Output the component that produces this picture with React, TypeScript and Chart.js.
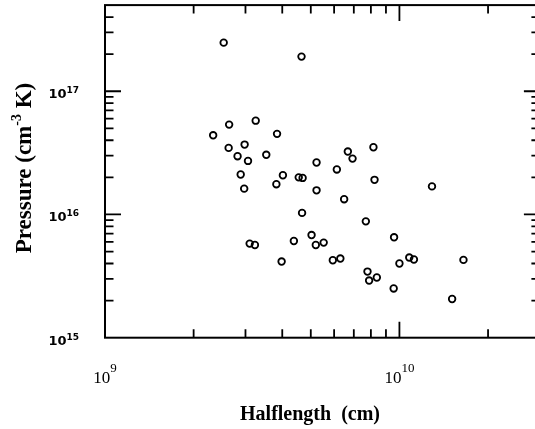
import React, { useEffect, useRef } from 'react';
import { Chart, registerables } from 'chart.js';

Chart.register(...registerables);

// Halflength (cm) for each source
const halflength: number[] = [
  2.53e9, 4.65e9, 3.25e9, 2.64e9, 2.33e9, 3.84e9, 2.98e9, 2.63e9, 6.68e9, 8.16e9,
  3.53e9, 2.82e9, 6.93e9, 3.06e9, 5.23e9, 6.13e9, 2.89e9, 4.02e9, 4.55e9, 4.69e9,
  8.23e9, 3.82e9, 1.29e10, 2.97e9, 5.23e9, 6.49e9, 4.67e9, 7.69e9, 9.59e9, 5.03e9,
  4.38e9, 5.53e9, 3.10e9, 3.23e9, 5.20e9, 5.94e9, 6.30e9, 3.98e9, 1.00e10, 1.08e10,
  1.12e10, 1.65e10, 7.79e9, 7.89e9, 8.38e9, 9.56e9, 1.51e10,
];

// Pressure (cm^-3 K) for each source
const pressure: number[] = [
  2.48e17, 1.91e17, 5.77e16, 5.36e16, 4.39e16, 4.51e16, 3.69e16, 3.47e16, 3.24e16, 3.51e16,
  3.05e16, 2.97e16, 2.84e16, 2.72e16, 2.64e16, 2.32e16, 2.11e16, 2.08e16, 2.00e16, 1.98e16,
  1.91e16, 1.76e16, 1.69e16, 1.62e16, 1.57e16, 1.33e16, 1.03e16, 8.79e15, 6.53e15, 6.81e15,
  6.09e15, 5.91e15, 5.80e15, 5.65e15, 5.65e15, 4.25e15, 4.39e15, 4.15e15, 4.00e15, 4.47e15,
  4.31e15, 4.28e15, 3.44e15, 2.91e15, 3.08e15, 2.51e15, 2.06e15,
];

const xRange: [number, number] = [1e9, 3e10];
const yRange: [number, number] = [1e15, 5e17];
const xLabelExponents: string[] = ['9', '10'];
const yLabelExponents: string[] = ['15', '16', '17'];
const xTitle = 'Halflength  (cm)';
const yTitleParts: [string, string, string] = ['Pressure (cm', '-3', ' K)'];

const framePlugin = {
  id: 'framePlugin',
  afterDraw(chart: any) {
    const { ctx, chartArea: a, scales } = chart;
    const xs = scales.x;
    const ys = scales.y;
    ctx.save();
    ctx.strokeStyle = '#000';
    ctx.fillStyle = '#000';

    // frame
    ctx.lineWidth = 2;
    ctx.strokeRect(a.left, a.top, a.right - a.left, a.bottom - a.top);

    const major = 16;
    const minor = 8.5;
    ctx.lineWidth = 1.8;

    // x ticks (bottom & top, inward)
    for (let d = Math.floor(Math.log10(xRange[0])); d <= Math.ceil(Math.log10(xRange[1])); d++) {
      for (let m = 1; m <= 9; m++) {
        const v = m * Math.pow(10, d);
        if (v <= xRange[0] * 1.0001 || v >= xRange[1] * 0.9999) continue;
        const px = xs.getPixelForValue(v);
        const len = m === 1 ? major : minor;
        ctx.beginPath();
        ctx.moveTo(px, a.bottom);
        ctx.lineTo(px, a.bottom - len);
        ctx.moveTo(px, a.top);
        ctx.lineTo(px, a.top + len);
        ctx.stroke();
      }
    }
    // y ticks (left & right, inward)
    for (let d = Math.floor(Math.log10(yRange[0])); d <= Math.ceil(Math.log10(yRange[1])); d++) {
      for (let m = 1; m <= 9; m++) {
        const v = m * Math.pow(10, d);
        if (v <= yRange[0] * 1.0001 || v >= yRange[1] * 0.9999) continue;
        const py = ys.getPixelForValue(v);
        const len = m === 1 ? major : minor;
        ctx.beginPath();
        ctx.moveTo(a.left, py);
        ctx.lineTo(a.left + len, py);
        ctx.moveTo(a.right, py);
        ctx.lineTo(a.right - len, py);
        ctx.stroke();
      }
    }

    // x tick labels (serif, centered)
    const xBase = '17px "Liberation Serif"';
    const xSup = '13px "Liberation Serif"';
    xLabelExponents.forEach((e) => {
      const px = xs.getPixelForValue(Math.pow(10, Number(e)));
      ctx.font = xBase;
      const w1 = ctx.measureText('10').width;
      ctx.font = xSup;
      const w2 = ctx.measureText(e).width;
      const start = px - (w1 + w2) / 2;
      ctx.textAlign = 'left';
      ctx.textBaseline = 'alphabetic';
      ctx.font = xBase;
      ctx.fillText('10', start, a.bottom + 45);
      ctx.font = xSup;
      ctx.fillText(e, start + w1, a.bottom + 34);
    });

    // y tick labels (sans, right aligned)
    const yBase = 'bold 13px "DejaVu Sans"';
    const ySup = 'bold 9px "DejaVu Sans"';
    yLabelExponents.forEach((e) => {
      const py = ys.getPixelForValue(Math.pow(10, Number(e)));
      const right = a.left - 26;
      ctx.font = ySup;
      const w2 = ctx.measureText(e).width;
      ctx.textAlign = 'left';
      ctx.textBaseline = 'alphabetic';
      ctx.font = yBase;
      const w1 = ctx.measureText('10').width;
      ctx.fillText('10', right - w2 - w1, py + 7);
      ctx.font = ySup;
      ctx.fillText(e, right - w2, py + 2);
    });

    // x title
    ctx.font = 'bold 20px "Liberation Serif"';
    ctx.textAlign = 'center';
    ctx.textBaseline = 'alphabetic';
    ctx.fillText(xTitle, 310, 420);

    // y title (rotated)
    const tBase = 'bold 23px "Liberation Serif"';
    const tSup = 'bold 14px "Liberation Serif"';
    ctx.font = tBase;
    const p1 = ctx.measureText(yTitleParts[0]).width;
    const p3 = ctx.measureText(yTitleParts[2]).width;
    ctx.font = tSup;
    const p2 = ctx.measureText(yTitleParts[1]).width;
    const total = p1 + p2 + p3;
    ctx.translate(31, 168);
    ctx.rotate(-Math.PI / 2);
    ctx.textAlign = 'left';
    let x0 = -total / 2;
    ctx.font = tBase;
    ctx.fillText(yTitleParts[0], x0, 0);
    x0 += p1;
    ctx.font = tSup;
    ctx.fillText(yTitleParts[1], x0, -10);
    x0 += p2;
    ctx.font = tBase;
    ctx.fillText(yTitleParts[2], x0, 0);

    ctx.restore();
  },
};

export default function App() {
  const canvasRef = useRef<HTMLCanvasElement | null>(null);

  useEffect(() => {
    const canvas = canvasRef.current;
    if (!canvas) return;
    const points = halflength.map((x, i) => ({ x, y: pressure[i] }));
    const chart = new Chart(canvas, {
      type: 'scatter',
      data: {
        datasets: [
          {
            data: points,
            pointStyle: 'circle',
            pointRadius: 3.3,
            pointBorderWidth: 1.8,
            borderColor: '#000',
            backgroundColor: 'rgba(0,0,0,0)',
            pointHoverRadius: 3.3,
          },
        ],
      },
      options: {
        responsive: false,
        animation: false,
        devicePixelRatio: 1,
        layout: { padding: { left: 105, top: 4.5, right: 4.2, bottom: 91.3 } },
        plugins: { legend: { display: false }, tooltip: { enabled: false } },
        scales: {
          x: { type: 'logarithmic', min: xRange[0], max: xRange[1], display: false },
          y: { type: 'logarithmic', min: yRange[0], max: yRange[1], display: false },
        },
      },
      plugins: [framePlugin],
    });
    return () => chart.destroy();
  }, []);

  return (
    <div
      style={{
        position: 'fixed',
        left: 0,
        top: 0,
        width: 535,
        height: 429,
        overflow: 'hidden',
        background: '#fff',
      }}
    >
      <canvas ref={canvasRef} width={545} height={429} style={{ display: 'block' }} />
    </div>
  );
}
